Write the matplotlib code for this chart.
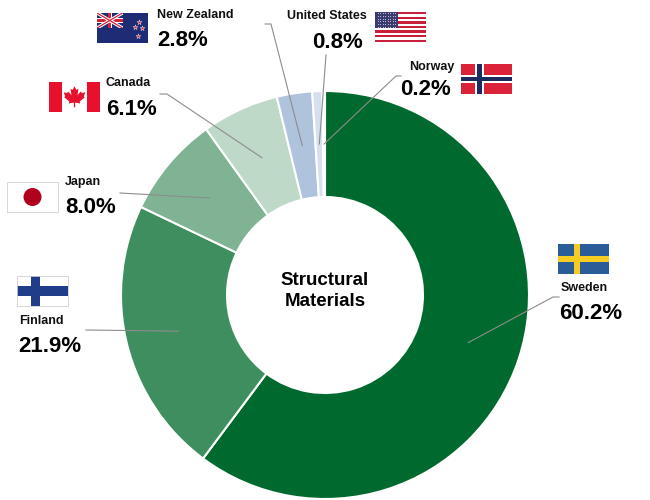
import numpy as np
import matplotlib
matplotlib.use('Agg')
import matplotlib.pyplot as plt
from matplotlib.patches import Rectangle, Circle, Polygon

plt.rcParams['font.family'] = ['Liberation Sans', 'DejaVu Sans']

W, H = 650, 500

# data
countries = ['Sweden', 'Finland', 'Japan', 'Canada', 'New Zealand', 'United States', 'Norway']
shares = [60.2, 21.9, 8.0, 6.1, 2.8, 0.8, 0.2]
slice_colors = ['#006a2e', '#3f8e5f', '#80b394', '#bfd9c9', '#b0c3dd', '#d6dfee', '#e9eef6']
center_label = 'Structural\nMaterials'

# label layout in image pixels (x, y from top)
layout = {
    'Sweden':        dict(flag=(558, 244), name=(561, 291), pct=(559, 319), ha='left',  elbow=[(559, 297), (553, 297)]),
    'Finland':       dict(flag=(17, 276),  name=(19, 324),  pct=(18, 352),  ha='left',  elbow=[(86, 330)]),
    'Japan':         dict(flag=(7, 182),   name=(65, 185),  pct=(65, 213),  ha='left',  elbow=[(120, 193)]),
    'Canada':        dict(flag=(49, 82),   name=(106, 86),  pct=(106, 115), ha='left',  elbow=[(160, 94), (167, 94)]),
    'New Zealand':   dict(flag=(97, 13),   name=(157, 18),  pct=(157, 46),  ha='left',  elbow=[(265, 24), (271, 24)]),
    'United States': dict(flag=(375, 12),  name=(367, 19),  pct=(363, 48),  ha='right', elbow=[(326, 55)]),
    'Norway':        dict(flag=(461, 64),  name=(454, 70),  pct=(451, 95),  ha='right', elbow=[(401, 76), (396, 76)]),
}
FW, FH = 51, 30


def rect(ax, x, y, w, h, color, **kw):
    p = Rectangle((x, H - y - h), w, h, facecolor=color, edgecolor='none', **kw)
    ax.add_patch(p)
    return p


def border(ax, x, y, w, h):
    ax.add_patch(Rectangle((x, H - y - h), w, h, facecolor='none', edgecolor='#d0d0d0', lw=0.6))


def flag_sweden(ax, x, y, w, h):
    rect(ax, x, y, w, h, '#2b5c9a')
    rect(ax, x + w * 5 / 16, y, w * 2 / 16, h, '#f4cc22')
    rect(ax, x, y + h * 4 / 10, w, h * 2 / 10, '#f4cc22')


def flag_finland(ax, x, y, w, h):
    rect(ax, x, y, w, h, 'white')
    rect(ax, x + w * 0.27, y, w * 0.18, h, '#203d8a')
    rect(ax, x, y + h * 0.34, w, h * 0.31, '#203d8a')
    border(ax, x, y, w, h)


def flag_japan(ax, x, y, w, h):
    rect(ax, x, y, w, h, 'white')
    ax.add_patch(Circle((x + w / 2, H - y - h / 2), h * 0.3, facecolor='#b0001e', edgecolor='none'))
    border(ax, x, y, w, h)


leaf = np.array([(0, 1.0), (0.17, 0.66), (0.36, 0.76), (0.28, 0.18), (0.6, 0.52), (0.68, 0.36),
                 (1.0, 0.44), (0.86, 0.05), (0.96, -0.02), (0.48, -0.42), (0.54, -0.6),
                 (0.06, -0.52), (0.06, -0.95)])
leaf = np.vstack([leaf, leaf[::-1] * [-1, 1]])


def flag_canada(ax, x, y, w, h):
    rect(ax, x, y, w, h, 'white')
    rect(ax, x, y, w / 4, h, '#e8112d')
    rect(ax, x + w * 3 / 4, y, w / 4, h, '#e8112d')
    s = h * 0.36
    pts = leaf * s + [x + w / 2, H - y - h / 2]
    ax.add_patch(Polygon(pts, closed=True, facecolor='#e8112d', edgecolor='none'))


def flag_nz(ax, x, y, w, h):
    rect(ax, x, y, w, h, '#1d2c74')
    cw, ch = w / 2, h / 2
    bg = rect(ax, x, y, cw, ch, '#1d2c74')
    x0, x1, y0, y1 = x, x + cw, H - y, H - y - ch
    for lw, col in [(2.4, 'white'), (0.9, '#d2233b')]:
        for xs, ys in [((x0, x1), (y0, y1)), ((x0, x1), (y1, y0))]:
            ln, = ax.plot(xs, ys, color=col, lw=lw, solid_capstyle='butt')
            ln.set_clip_path(bg)
    rect(ax, x + cw * 0.42, y, cw * 0.16, ch, 'white')
    rect(ax, x, y + ch * 0.34, cw, ch * 0.32, 'white')
    rect(ax, x + cw * 0.45, y, cw * 0.10, ch, '#d2233b')
    rect(ax, x, y + ch * 0.40, cw, ch * 0.20, '#d2233b')
    stars = [(0.74, 0.47), (0.82, 0.3), (0.88, 0.5), (0.81, 0.76)]
    ax.scatter([x + w * a for a, b in stars], [H - y - h * b for a, b in stars], marker='*',
               s=14, color='#d2233b', edgecolors='white', linewidths=0.3, zorder=5)


def flag_us(ax, x, y, w, h):
    sh = h / 13
    for i in range(13):
        rect(ax, x, y + i * sh, w, sh, '#c8203a' if i % 2 == 0 else 'white')
    rect(ax, x, y, w * 0.45, sh * 7, '#3c3b6e')
    gx, gy = np.meshgrid(np.linspace(0.05, 0.40, 8), np.linspace(0.5, 6.5, 6))
    ax.scatter(x + w * gx.ravel(), H - y - sh * gy.ravel(), s=0.6, color='#c8cde0', linewidths=0, zorder=5)


def flag_norway(ax, x, y, w, h):
    rect(ax, x, y, w, h, '#da2338')
    rect(ax, x + w * 6 / 22, y, w * 4 / 22, h, 'white')
    rect(ax, x, y + h * 6 / 16, w, h * 4 / 16, 'white')
    rect(ax, x + w * 7 / 22, y, w * 2 / 22, h, '#1d2a5e')
    rect(ax, x, y + h * 7 / 16, w, h * 2 / 16, '#1d2a5e')


flag_funcs = {'Sweden': flag_sweden, 'Finland': flag_finland, 'Japan': flag_japan,
              'Canada': flag_canada, 'New Zealand': flag_nz, 'United States': flag_us,
              'Norway': flag_norway}

fig = plt.figure(figsize=(6.5, 5), dpi=100)
ax = fig.add_axes([0, 0, 1, 1])

cx, cy = 325, H - 295
r_out, r_in = 204, 98
ax.pie(shares, radius=r_out, center=(cx, cy), startangle=90, counterclock=False,
       colors=slice_colors,
       wedgeprops=dict(width=r_out - r_in, edgecolor='white', linewidth=1.5))
ax.set_xlim(0, W)
ax.set_ylim(0, H)
ax.set_aspect('equal')
ax.axis('off')

ax.text(cx, cy + 4, center_label, ha='center', va='center', fontsize=13.5,
        fontweight='bold', linespacing=1.25)

# leader line anchors at the middle of each ring slice
bounds = np.concatenate([[0], np.cumsum(shares)]) / sum(shares)
mid_ang = np.radians(90 - 360 * (bounds[:-1] + bounds[1:]) / 2)
r_mid = (r_out + r_in) / 2

for i, c in enumerate(countries):
    L = layout[c]
    ex = [p[0] for p in L['elbow']] + [cx + r_mid * np.cos(mid_ang[i])]
    ey = [H - p[1] for p in L['elbow']] + [cy + r_mid * np.sin(mid_ang[i])]
    ax.plot(ex, ey, color='#8c8c8c', lw=0.8, zorder=4)
    fx, fy = L['flag']
    flag_funcs[c](ax, fx, fy, FW, FH)
    ax.text(L['name'][0], H - L['name'][1], c, ha=L['ha'], va='baseline',
            fontsize=9, fontweight='bold', color='#111111')
    ax.text(L['pct'][0], H - L['pct'][1], f'{shares[i]:.1f}%', ha=L['ha'], va='baseline',
            fontsize=16, fontweight='bold', color='black')

fig.savefig('out.png', dpi=100)
